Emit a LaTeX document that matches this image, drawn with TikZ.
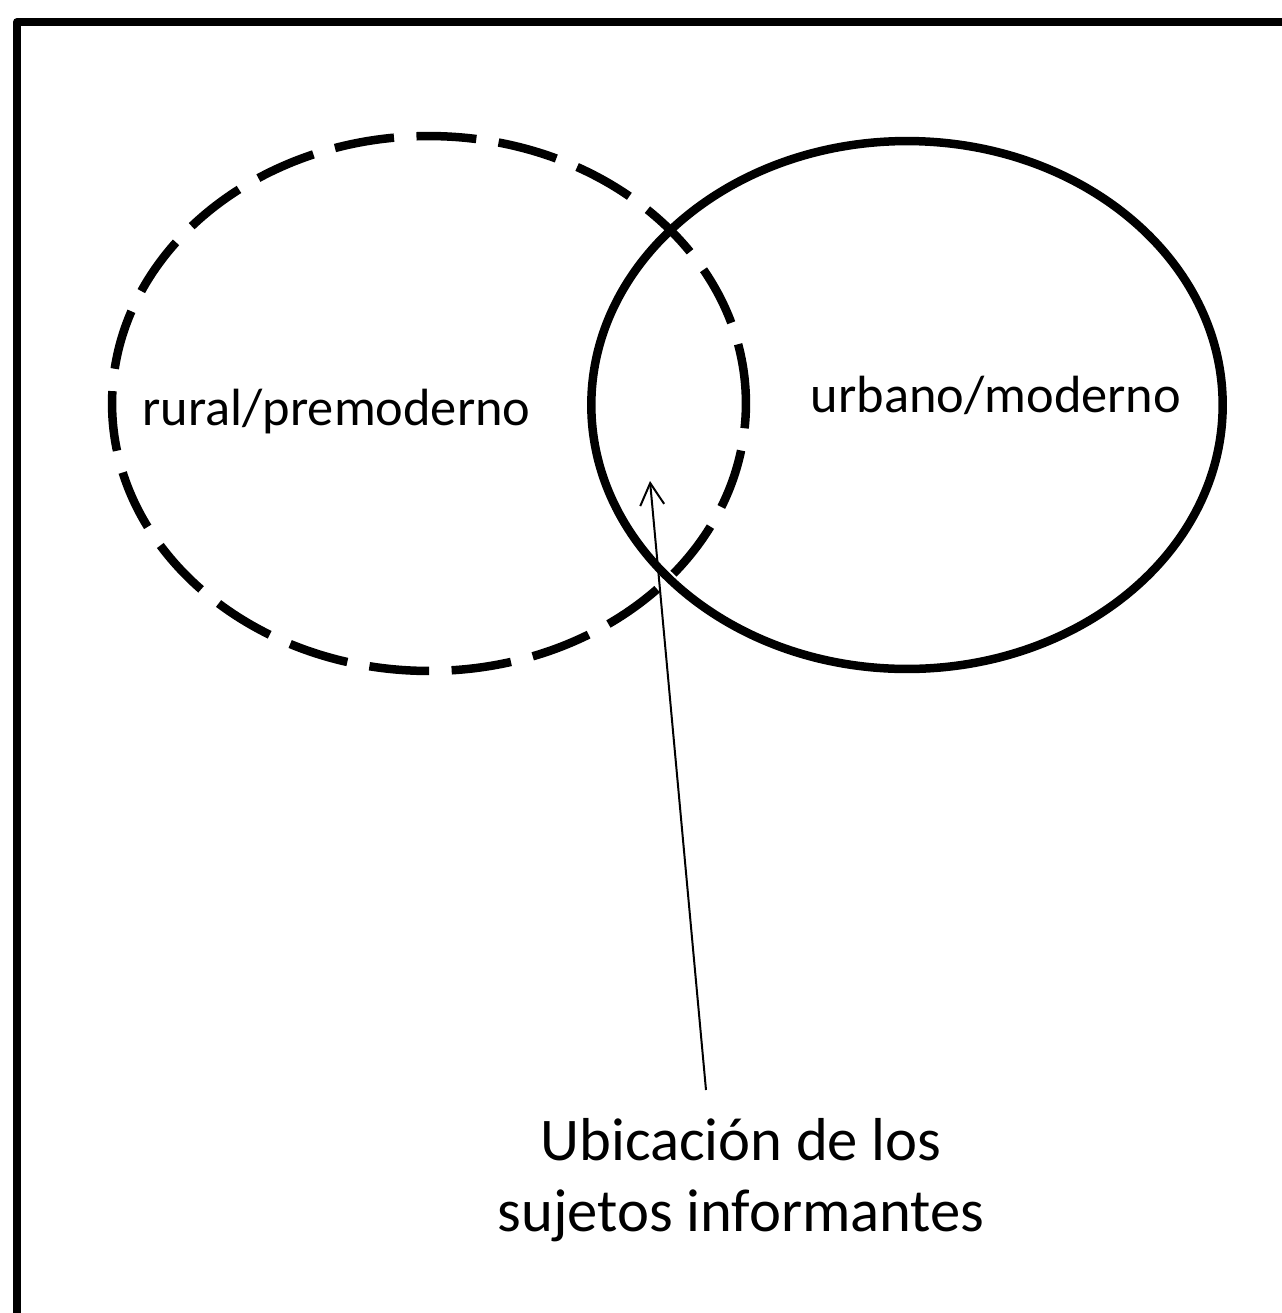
\documentclass[tikz,border=0pt]{standalone}
\usepackage{fontspec}
\setmainfont{Carlito}
\usetikzlibrary{shapes.geometric}
\usetikzlibrary{arrows.meta}

\tikzset{
  zone/.style={ellipse, draw, line width=0.17cm, inner sep=0pt},
  broken/.style={dash pattern=on 1.2cm off 0.45cm},
  tag/.style={font=\fontsize{29.8}{36}\selectfont, inner sep=0pt},
  note/.style={font=\fontsize{34.5}{40.4}\selectfont, inner sep=0pt, align=center},
  pointer/.style={line width=0.04cm, -{Straight Barb[length=0.44cm, width=0.48cm, line width=0.04cm]}}
}

\begin{document}
\begin{tikzpicture}[x=0.02cm, y=-0.02cm]

  % Frame
  \useasboundingbox (0,0) rectangle (1282,1313);
  \clip (0,0) rectangle (1282,1313);
  \draw[line width=0.16cm, line join=round] (17,22) rectangle (1400,1400);

  % Define nodes
  \node[zone, broken, minimum width=12.68cm, minimum height=10.7cm] (rural) at (429,403.5) {};
  \node[zone, minimum width=12.63cm, minimum height=10.56cm] (urban) at (907,405) {};
  \node[tag, anchor=base] (ruraltxt) at (336.5,425) {rural/premoderno};
  \node[tag, anchor=base] (urbantxt) at (996,412) {urbano/moderno};
  \node[note] (info) at (741,1180) {Ubicación de los\\sujetos informantes};
  \coordinate (foot) at (706,1090);
  \coordinate (spot) at (650,481);

  % Connect the nodes
  \draw[pointer] (foot) -- (spot);

\end{tikzpicture}
\end{document}
